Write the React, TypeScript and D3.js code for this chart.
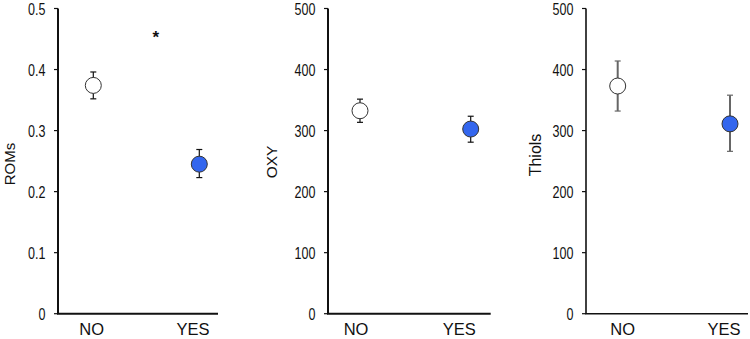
import * as d3 from 'd3';

const groups = ['NO', 'YES'];

const romsMean = [0.374, 0.245];
const romsLow = [0.352, 0.223];
const romsHigh = [0.396, 0.269];

const oxyMean = [332.5, 302.5];
const oxyLow = [313.5, 281];
const oxyHigh = [351.5, 323.5];

const thiolMean = [373, 311];
const thiolLow = [332, 266];
const thiolHigh = [414, 358];

const romsTicks = [0, 0.1, 0.2, 0.3, 0.4, 0.5];
const countTicks = [0, 100, 200, 300, 400, 500];

const W = 750;
const H = 339;
const FONT = 'Liberation Sans, Arial, sans-serif';
const TOP = 8.5;
const BOTTOM = 313.7;

interface PanelProps {
  title: string;
  titleSize: number;
  titleX: number;
  titleY: number;
  mean: number[];
  low: number[];
  high: number[];
  ticks: number[];
  fmt: (v: number) => string;
  axisX: number;
  xEnd: number;
  pointRange: [number, number];
  labelRange: [number, number];
  barColor: string;
  barWidth: number;
  axisWidth: number;
}

function Panel(p: PanelProps) {
  const y = d3.scaleLinear().domain([0, p.ticks[p.ticks.length - 1]]).range([BOTTOM, TOP]);
  const x = d3.scalePoint<string>().domain(groups).range(p.pointRange);
  const xl = d3.scalePoint<string>().domain(groups).range(p.labelRange);

  return (
    <g>
      {/* axes */}
      <line x1={p.axisX} x2={p.axisX} y1={y(p.ticks[p.ticks.length - 1])} y2={BOTTOM} stroke="#111" strokeWidth={p.axisWidth} />
      <line x1={p.axisX - p.axisWidth / 2} x2={p.xEnd} y1={BOTTOM} y2={BOTTOM} stroke="#111" strokeWidth={p.axisWidth} />
      {p.ticks.map(t => (
        <g key={t}>
          <line x1={p.axisX - 4} x2={p.axisX} y1={y(t)} y2={y(t)} stroke="#111" strokeWidth={1.2} />
          <text
            transform={`translate(${p.axisX - 12.5},${y(t) + 6}) scale(0.76,1)`}
            textAnchor="end"
            fontFamily={FONT}
            fontSize={16.5}
            fill="#111"
          >
            {p.fmt(t)}
          </text>
        </g>
      ))}
      {groups.map(g => (
        <text key={g} x={xl(g)} y={335} textAnchor="middle" fontFamily={FONT} fontSize={16.5} fill="#111">
          {g}
        </text>
      ))}
      <text
        transform={`translate(${p.titleX},${p.titleY}) rotate(-90)`}
        textAnchor="middle"
        dominantBaseline="central"
        fontFamily={FONT}
        fontSize={p.titleSize}
        fill="#111"
      >
        {p.title}
      </text>
      {/* error bars and points */}
      {groups.map((g, i) => {
        const cx = x(g) as number;
        return (
          <g key={g}>
            <line x1={cx} x2={cx} y1={y(p.low[i])} y2={y(p.high[i])} stroke={p.barColor} strokeWidth={p.barWidth} />
            <line x1={cx - 3} x2={cx + 3} y1={y(p.low[i])} y2={y(p.low[i])} stroke={p.barColor} strokeWidth={1.2} />
            <line x1={cx - 3} x2={cx + 3} y1={y(p.high[i])} y2={y(p.high[i])} stroke={p.barColor} strokeWidth={1.2} />
            <circle
              cx={cx}
              cy={y(p.mean[i])}
              r={8}
              fill={i === 0 ? '#ffffff' : '#3366ee'}
              stroke="#333"
              strokeWidth={1}
            />
          </g>
        );
      })}
    </g>
  );
}

export default function App() {
  const f1 = d3.format('.1f');
  const f0 = (v: number) => (v === 0 ? '0' : f1(v));
  const fi = d3.format('d');
  return (
    <svg width={W} height={H} style={{ position: 'absolute', left: 0, top: 0, background: '#fff' }}>
      <Panel
        title="ROMs"
        titleSize={15}
        titleX={9.5}
        titleY={164}
        mean={romsMean}
        low={romsLow}
        high={romsHigh}
        ticks={romsTicks}
        fmt={f0}
        axisX={58}
        xEnd={218}
        pointRange={[93.3, 199.3]}
        labelRange={[91.7, 193]}
        barColor="#111"
        barWidth={1.2}
        axisWidth={2}
      />
      <text x={155.7} y={43} textAnchor="middle" fontFamily={FONT} fontSize={17} fontWeight="bold" fill="#111">
        *
      </text>
      <Panel
        title="OXY"
        titleSize={15.5}
        titleX={271}
        titleY={162}
        mean={oxyMean}
        low={oxyLow}
        high={oxyHigh}
        ticks={countTicks}
        fmt={fi}
        axisX={328}
        xEnd={490.7}
        pointRange={[360, 470.7]}
        labelRange={[356, 459.3]}
        barColor="#111"
        barWidth={1.2}
        axisWidth={2}
      />
      <Panel
        title="Thiols"
        titleSize={16}
        titleX={535}
        titleY={155}
        mean={thiolMean}
        low={thiolLow}
        high={thiolHigh}
        ticks={countTicks}
        fmt={fi}
        axisX={586}
        xEnd={748}
        pointRange={[617.7, 730]}
        labelRange={[622.7, 724]}
        barColor="#666"
        barWidth={2}
        axisWidth={1.6}
      />
    </svg>
  );
}
